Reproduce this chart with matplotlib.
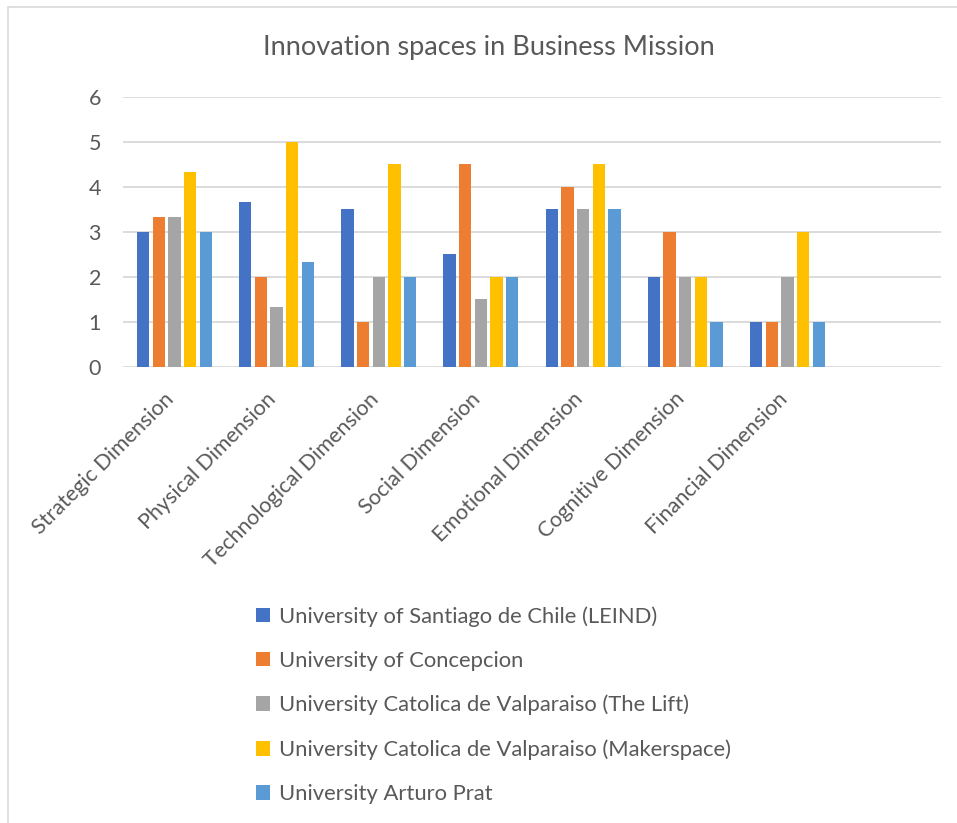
import matplotlib
matplotlib.use("Agg")
import matplotlib.pyplot as plt
import matplotlib.transforms as mtransforms
from matplotlib.patches import Rectangle
import numpy as np

plt.rcParams['font.family'] = ['Lato', 'DejaVu Sans']

categories = ["Strategic Dimension", "Physical Dimension", "Technological Dimension",
              "Social Dimension", "Emotional Dimension", "Cognitive Dimension",
              "Financial Dimension", ""]
series_names = ["University of Santiago de Chile (LEIND)",
                "University of Concepcion",
                "University Catolica de Valparaiso (The Lift)",
                "University Catolica de Valparaiso (Makerspace)",
                "University Arturo Prat"]
santiago = [3.0, 3.67, 3.5, 2.5, 3.5, 2.0, 1.0, np.nan]
concepcion = [3.33, 2.0, 1.0, 4.5, 4.0, 3.0, 1.0, np.nan]
the_lift = [3.33, 1.33, 2.0, 1.5, 3.5, 2.0, 2.0, np.nan]
makerspace = [4.33, 5.0, 4.5, 2.0, 4.5, 2.0, 3.0, np.nan]
arturo_prat = [3.0, 2.33, 2.0, 2.0, 3.5, 1.0, 1.0, np.nan]
series_values = [santiago, concepcion, the_lift, makerspace, arturo_prat]
colors = ["#4472C4", "#ED7D31", "#A5A5A5", "#FFC000", "#5B9BD5"]
text_color = "#595959"
grid_color = "#D9D9D9"

W, H = 957, 823
fig = plt.figure(figsize=(W / 100, H / 100), dpi=100)
fig.patch.set_facecolor("white")

# chart area border
fig.patches.append(Rectangle((8 / W, -0.05), 1.1, 1 - 7 / H + 0.05, transform=fig.transFigure,
                             fill=False, edgecolor=grid_color, linewidth=1.2))

ax = fig.add_axes([123.3 / W, 1 - 366.7 / H, (940.7 - 123.3) / W, (366.7 - 96.7) / H])
x = np.arange(len(categories))
pitch = 0.1536
width = 0.121
for i, (name, vals, c) in enumerate(zip(series_names, series_values, colors)):
    ax.bar(x + (i - 2) * pitch, vals, width=width, color=c, label=name, zorder=3)

ax.set_xlim(-0.5, len(categories) - 0.5)
ax.set_ylim(0, 6)
ax.set_yticks(range(0, 7))
ax.yaxis.grid(True, color=grid_color, linewidth=1.3, zorder=0)
ax.set_axisbelow(True)
for s in ax.spines.values():
    s.set_visible(False)
ax.tick_params(axis='both', length=0, labelsize=15.5, labelcolor=text_color)
ax.tick_params(axis='y', pad=16)
ax.set_xticks(x)
ax.set_xticklabels(categories, rotation=45, ha='right', rotation_mode='anchor', va='center')
ax.tick_params(axis='x', pad=21)
offset = mtransforms.ScaledTranslation(-2.5 / 72, 0, fig.dpi_scale_trans)
for lbl in ax.get_xticklabels():
    lbl.set_transform(lbl.get_transform() + offset)

fig.text(489 / W, 1 - 47 / H, "Innovation spaces in Business Mission", ha='center', va='center',
         fontsize=19.5, color=text_color)

leg = fig.legend(loc='upper left', bbox_to_anchor=(256 / W, 1 - 606 / H), frameon=False,
                 fontsize=15.8, labelcolor=text_color, handlelength=0.64, handleheight=0.64,
                 handletextpad=0.4, labelspacing=1.1, borderpad=0, borderaxespad=0)

fig.savefig("out.png", dpi=100)
